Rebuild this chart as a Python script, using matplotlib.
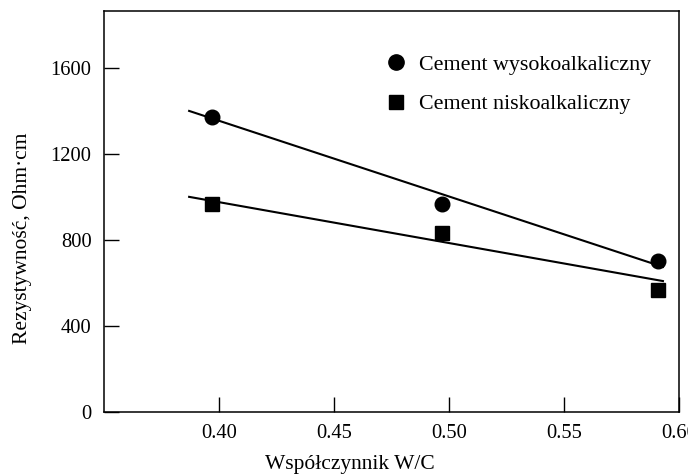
import matplotlib
matplotlib.use("Agg")
import matplotlib.pyplot as plt
from matplotlib.lines import Line2D

plt.rcParams['font.family'] = ['Liberation Serif', 'DejaVu Serif']

# measured resistivity vs. water/cement ratio
wc = [0.397, 0.497, 0.591]
high_alkali = [1370, 966, 701]
low_alkali = [965, 832, 566]

# trend lines (end points)
fit_x = [0.387, 0.593]
fit_high = [1400, 674]
fit_low = [1000, 608]

labels = ['Cement wysokoalkaliczny', 'Cement niskoalkaliczny']
xticks = [0.40, 0.45, 0.50, 0.55, 0.60]
yticks = [0, 400, 800, 1200, 1600]

fig = plt.figure(figsize=(6.88, 4.75), dpi=100)
ax = fig.add_axes([0.1512, 0.1333, 0.8358, 0.8435])

ax.plot(fit_x, fit_high, color='black', lw=1.5, zorder=2)
ax.plot(fit_x, fit_low, color='black', lw=1.5, zorder=2)
ax.plot(wc, high_alkali, 'o', color='black', ms=10.5, zorder=3, clip_on=False)
ax.plot(wc, low_alkali, 's', color='black', ms=10.5, zorder=3, clip_on=False)

ax.set_xlim(0.35, 0.60)
ax.set_ylim(0, 1865)
ax.set_xticks(xticks)
ax.set_xticklabels(['%.2f' % t for t in xticks])
ax.set_yticks(yticks)
ax.tick_params(direction='in', length=11, width=1, labelsize=14.8, colors='black')
ax.tick_params(axis='x', pad=9)
ax.tick_params(axis='y', pad=9)
for s in ax.spines.values():
    s.set_linewidth(1.1)

ax.set_xlabel('Współczynnik W/C', fontsize=15.5)
ax.xaxis.set_label_coords(0.428, -0.108)
ax.set_ylabel('Rezystywność, Ohm·cm', fontsize=15.5)
ax.yaxis.set_label_coords(-0.126, 0.433)

handles = [Line2D([], [], marker='o', ls='none', color='black', ms=11),
           Line2D([], [], marker='s', ls='none', color='black', ms=10.5)]
ax.legend(handles, labels, loc='upper left', bbox_to_anchor=(0.45, 0.94),
          frameon=False, fontsize=15.8, handletextpad=0.45, labelspacing=0.85,
          handlelength=1.2)

fig.savefig('out.png', dpi=100)
